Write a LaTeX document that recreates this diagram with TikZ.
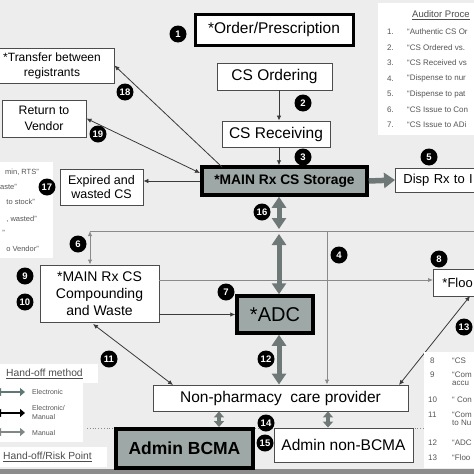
\documentclass[tikz,border=0pt]{standalone}
\usepackage{fontspec}
\setmainfont{Liberation Sans}
\usetikzlibrary{arrows.meta}
\definecolor{bgc}{HTML}{EDEDED}
\definecolor{stripc}{HTML}{8C8C8C}
\definecolor{boxgray}{HTML}{9EA8A6}
\definecolor{thickc}{HTML}{6E7977}
\definecolor{linec}{HTML}{3A3A3A}
\definecolor{hlc}{HTML}{8A8A8A}
\definecolor{lstc}{HTML}{555555}
\definecolor{elc}{HTML}{5F7775}
\definecolor{mac}{HTML}{7E8886}
\newcommand\myfs[2]{\fontsize{#1}{#2}\selectfont}
\begin{document}
\begin{tikzpicture}[x=1pt,y=-1pt,
  box/.style={draw=black!70, line width=0.9pt, fill=white, inner sep=0pt, align=center},
  hbox/.style={draw=black, line width=3pt, fill=white, inner sep=0pt, align=center},
  gbox/.style={draw=black, line width=3.5pt, fill=boxgray, inner sep=0pt, align=center},
  badge/.style={circle, fill=black, text=white, inner sep=0pt, minimum size=17pt, font=\bfseries\myfs{9.5}{9.5}},
  tline/.style={draw=linec, line width=0.8pt, -{Latex[length=5pt,width=4.5pt]}},
  tdbl/.style={draw=linec, line width=0.8pt, {Latex[length=5pt,width=4.5pt]}-{Latex[length=5pt,width=4.5pt]}},
  hl/.style={draw=hlc, line width=0.9pt},
  thk/.style={draw=thickc, line width=5.5pt, -{Triangle[length=11pt,width=15pt]}},
  thkdbl/.style={draw=thickc, line width=5pt, {Triangle[length=11pt,width=14pt]}-{Triangle[length=11pt,width=14pt]}},
  smdbl/.style={draw=thickc, line width=3.5pt, {Triangle[length=6pt,width=10pt]}-{Triangle[length=6pt,width=10pt]}},
  lst/.style={anchor=west, inner sep=0pt, text=lstc, font=\myfs{8}{8}},
  lstr/.style={anchor=east, inner sep=0pt, text=lstc, font=\myfs{7.5}{8}},
  wpanel/.style={fill=white, draw=none},
  legarrow/.style={line width=2.5pt, {Triangle[length=5pt,width=8pt]}-{Triangle[length=5pt,width=8pt]}},
  leglab/.style={anchor=west, inner sep=0pt, text=lstc, font=\myfs{7}{9}, align=left},
  legtitle/.style={anchor=west, inner sep=0pt, text=black!70, font=\myfs{10.3}{12}},
]
\useasboundingbox (0,0) rectangle (474,474);
\clip (0,0) rectangle (474,474);
\fill[bgc] (0,0) rectangle (474,474);
\fill[stripc] (0,469) rectangle (474,474);

% white panels
\fill[wpanel] (378,3) rectangle (474,135);
\fill[wpanel] (0,162) rectangle (53,258);
\fill[wpanel] (0,364) rectangle (98,383);
\fill[wpanel] (0,383) rectangle (83,442);
\fill[wpanel] (0,447) rectangle (107,467);

% dotted separator
\coordinate (dl) at (87,428);
\coordinate (dr) at (474,428);
\draw[hlc, line width=0.8pt, dotted] (dl) -- (dr);

% boxes
\node[hbox, minimum width=158pt, minimum height=31pt, font=\myfs{15.5}{18}] (order) at (274,29.5) {*Order/Prescription};
\node[box, minimum width=115pt, minimum height=27pt, font=\myfs{15.5}{18}] (ordering) at (274.5,76.5) {CS Ordering};
\node[box, minimum width=108pt, minimum height=26pt, font=\myfs{15.5}{18}] (receiving) at (276,134) {CS Receiving};
\node[gbox, minimum width=165pt, minimum height=28pt, font=\bfseries\myfs{13.8}{16}] (storage) at (284.5,181) {*MAIN Rx CS Storage};
\node[box, anchor=west, minimum width=130pt, minimum height=24pt, inner xsep=8pt, text width=114pt, align=left, font=\myfs{13}{15}] (disp) at (395,180) {Disp Rx to I};
\node[box, minimum width=124pt, minimum height=35pt, font=\myfs{12}{15}] (transfer) at (52,65.5) {*Transfer between\\registrants};
\node[box, minimum width=84pt, minimum height=37pt, font=\myfs{12.3}{15.5}] (return) at (44,118.5) {Return to\\Vendor};
\node[box, minimum width=83pt, minimum height=36pt, font=\myfs{12.5}{14.5}] (expired) at (101.5,187) {Expired and\\wasted CS};
\node[box, minimum width=119pt, minimum height=57pt, font=\myfs{14}{17}] (comp) at (99.5,293.5) {*MAIN Rx CS\\Compounding\\and Waste};
\node[gbox, minimum width=76pt, minimum height=37pt, font=\myfs{20}{22}] (adc) at (275,314.5) {*ADC};
\node[box, anchor=west, minimum width=100pt, minimum height=27pt, inner xsep=9pt, text width=82pt, align=left, font=\myfs{13}{15}] (floor) at (433,282.5) {*Floo};
\node[box, minimum width=255pt, minimum height=26pt, font=\myfs{15.5}{18}] (nonpharm) at (280.5,398) {Non-pharmacy\ \ care provider};
\node[gbox, line width=4pt, minimum width=137pt, minimum height=39pt, font=\bfseries\myfs{17.5}{20}] (bcma) at (184.5,448.5) {Admin BCMA};
\node[box, minimum width=139pt, minimum height=34pt, font=\myfs{15.5}{18}] (nonbcma) at (343.5,445) {Admin non-BCMA};

% helper coordinates
\coordinate (cx) at (279,0);
\coordinate (s18) at (222,167);
\coordinate (s19) at (200,173);
\coordinate (h6) at (90,231);
\coordinate (hR) at (480,231);
\coordinate (m16a) at (279,229);
\coordinate (m16b) at (279,234);
\coordinate (c4) at (327,231);
\coordinate (cf) at (159,280);
\coordinate (c11a) at (93,324);
\coordinate (c11b) at (173,385);
\coordinate (c13a) at (399,385);
\coordinate (c13b) at (470,296);
\coordinate (c14) at (219,0);
\coordinate (c15) at (328,0);

% connectors
\draw[tline] (ordering.south -| cx) -- (receiving.north -| cx);
\draw[tline] (receiving.south -| cx) -- (storage.north -| cx);
\draw[tline] (s18) -- (transfer.east);
\draw[tdbl] (s19) -- (return.east);
\draw[tline] (storage.west) -- (storage.west -| expired.east);
\draw[hl] (h6) -- (hR);
\draw[hl, {Latex[length=5pt,width=4.5pt]}-{Latex[length=5pt,width=4.5pt]}] (h6) -- (comp.north -| h6);
\draw[hl, -{Latex[length=5pt,width=4.5pt]}] (c4) -- (nonpharm.north -| c4);
\draw[hl, -{Latex[length=5pt,width=4.5pt]}] (cf) -- (cf -| floor.west);
\draw[tline] (comp.east |- adc.west) -- (adc.west);
\draw[tdbl] (c11a) -- (c11b);
\draw[tdbl] (c13a) -- (c13b);
\draw[thk] (storage.east) -- (disp.west);
\draw[thkdbl] (storage.south -| cx) -- (m16a);
\draw[thkdbl] (m16b) -- (adc.north -| cx);
\draw[thkdbl] (adc.south -| cx) -- (nonpharm.north -| cx);
\draw[smdbl] (nonpharm.south -| c14) -- (bcma.north -| c14);
\draw[smdbl] (nonpharm.south -| c15) -- (nonbcma.north -| c15);

% badges
\node[badge] (b1) at (178,34) {1};
\node[badge] (b2) at (303,103) {2};
\node[badge] (b3) at (303,157) {3};
\node[badge] (b4) at (339,255) {4};
\node[badge] (b5) at (429,157) {5};
\node[badge] (b6) at (78,244) {6};
\node[badge] (b7) at (226,292) {7};
\node[badge] (b8) at (439,259) {8};
\node[badge] (b9) at (25,276) {9};
\node[badge] (b10) at (25,302) {10};
\node[badge] (b11) at (109,359) {11};
\node[badge] (b12) at (266,359) {12};
\node[badge] (b13) at (464,327) {13};
\node[badge] (b14) at (266,423) {14};
\node[badge] (b15) at (265,443) {15};
\node[badge] (b16) at (262,212) {16};
\node[badge] (b17) at (47,187) {17};
\node[badge] (b18) at (125,92) {18};
\node[badge] (b19) at (98,134) {19};

% auditor list (top right)
\node[legtitle, font=\myfs{9.5}{11}] (atitle) at (412,15) {\underline{Auditor Proce}};
\node[lst] (n1) at (387,32) {1.};
\node[lst] (n2) at (387,47.5) {2.};
\node[lst] (n3) at (387,63) {3.};
\node[lst] (n4) at (387,78.5) {4.};
\node[lst] (n5) at (387,94) {5.};
\node[lst] (n6) at (387,109.5) {6.};
\node[lst] (n7) at (387,125) {7.};
\node[lst] (t1) at (407,32) {``Authentic CS Or};
\node[lst] (t2) at (407,47.5) {``CS Ordered vs.};
\node[lst] (t3) at (407,63) {``CS Received vs};
\node[lst] (t4) at (407,78.5) {``Dispense to nur};
\node[lst] (t5) at (407,94) {``Dispense to pat};
\node[lst] (t6) at (407,109.5) {``CS Issue to Con};
\node[lst] (t7) at (407,125) {``CS Issue to ADi};

% left list (cut)
\node[lstr] (l14) at (39,172) {min, RTS''};
\node[lstr] (l15) at (17,187) {aste''};
\node[lstr] (l16) at (35,202) {to stock''};
\node[lstr] (l17) at (37,219) {, wasted''};
\node[lstr] (l18) at (5,233) {''};
\node[lstr] (l19) at (39,249) {o Vendor''};

% bottom right list
\fill[wpanel] (424,352) rectangle (474,468);
\node[lst] (n8) at (430,361) {8};
\node[lst] (n9) at (430,375) {9};
\node[lst] (n10) at (428,400) {10};
\node[lst] (n11) at (428,415) {11};
\node[lst] (n12) at (428,443) {12};
\node[lst] (n13) at (428,458) {13};
\node[lst] (t8) at (452,361) {``CS};
\node[lst, align=left] (t9) at (452,379) {``Com\\accu};
\node[lst] (t10) at (452,400) {`` Con};
\node[lst, align=left] (t11) at (452,419) {``Com\\to Nu};
\node[lst] (t12) at (452,443) {``ADC};
\node[lst] (t13) at (452,458) {``Floo};

% legend
\node[legtitle] (lt1) at (6,374) {\underline{Hand-off method}};
\coordinate (la1) at (-4,392); \coordinate (lb1) at (25,392);
\coordinate (la2) at (-4,413); \coordinate (lb2) at (25,413);
\coordinate (la3) at (-4,432); \coordinate (lb3) at (25,432);
\draw[legarrow, elc] (la1) -- (lb1);
\draw[legarrow, black] (la2) -- (lb2);
\draw[legarrow, mac] (la3) -- (lb3);
\node[leglab] (lg1) at (32,392) {Electronic};
\node[leglab] (lg2) at (32,412) {Electronic/\\Manual};
\node[leglab] (lg3) at (32,433) {Manual};
\node[legtitle] (lt2) at (3,457) {\underline{Hand-off/Risk Point}};
\end{tikzpicture}
\end{document}
